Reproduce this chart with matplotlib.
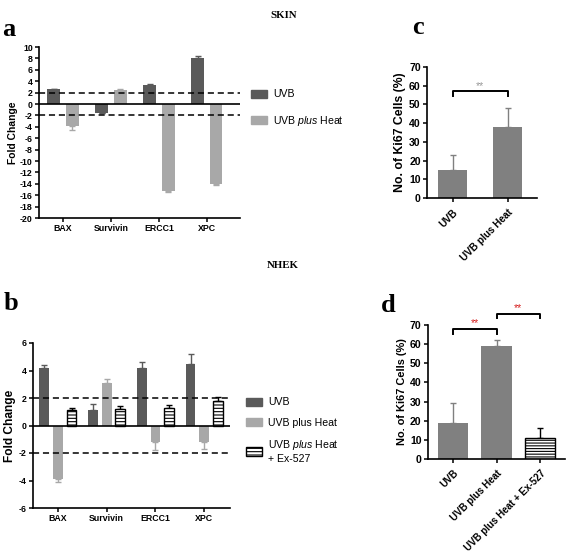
import matplotlib
matplotlib.use('Agg')
import matplotlib.pyplot as plt
from matplotlib.patches import Patch
import numpy as np

plt.rcParams['font.family'] = ['Liberation Sans', 'DejaVu Sans']
plt.rcParams['mathtext.fontset'] = 'custom'
plt.rcParams['mathtext.it'] = 'Liberation Sans:italic'
plt.rcParams['mathtext.rm'] = 'Liberation Sans'
plt.rcParams['hatch.linewidth'] = 0.8
plt.rcParams['axes.unicode_minus'] = False

genes = ['BAX', 'Survivin', 'ERCC1', 'XPC']

# panel a - skin
a_uvb = [2.6, -1.5, 3.3, 8.0]
a_uvb_err = [0.1, 0.1, 0.2, 0.5]
a_heat = [-3.8, 2.4, -15.3, -14.1]
a_heat_err = [0.8, 0.2, 0.1, 0.1]
a_labels = ['UVB', 'UVB $\\it{plus}$ Heat']

# panel b - NHEK
b_uvb = [4.2, 1.1, 4.2, 4.5]
b_uvb_err = [0.2, 0.5, 0.4, 0.7]
b_heat = [-3.9, 3.1, -1.2, -1.2]
b_heat_err = [0.2, 0.3, 0.6, 0.5]
b_ex = [1.1, 1.2, 1.3, 1.8]
b_ex_err = [0.2, 0.2, 0.2, 0.3]
b_labels = ['UVB', 'UVB plus Heat', 'UVB $\\it{plus}$ Heat\n+ Ex-527']

# panel c - Ki67 skin
c_groups = ['UVB', 'UVB plus Heat']
c_vals = [15, 38]
c_err = [8, 10]

# panel d - Ki67 NHEK
d_groups = ['UVB', 'UVB plus Heat', 'UVB plus Heat + Ex-527']
d_vals = [19, 59, 11]
d_err = [10, 3, 5]

DARK = '#5a5a5a'
LIGHT = '#a8a8a8'
MID = '#808080'

W, H = 567, 554
fig = plt.figure(figsize=(W / 100, H / 100), dpi=100)


def px_axes(left, right, top, bottom):
    return fig.add_axes([left / W, 1 - bottom / H, (right - left) / W, (bottom - top) / H])


def one_sided(vals, errs):
    lo = [e if v < 0 else 0 for v, e in zip(vals, errs)]
    hi = [e if v >= 0 else 0 for v, e in zip(vals, errs)]
    return [lo, hi]


def style(ax, size=6.3):
    for s in ['top', 'right']:
        ax.spines[s].set_visible(False)
    for s in ['left', 'bottom']:
        ax.spines[s].set_linewidth(1.2)
    ax.tick_params(direction='out', length=3, width=1.1, labelsize=size, pad=1.5)
    for lab in ax.get_xticklabels() + ax.get_yticklabels():
        lab.set_fontweight('bold')


def bars(ax, x, vals, errs, color, width, hatch=None):
    if hatch:
        ax.bar(x, vals, width, color='white', edgecolor='black', hatch=hatch, linewidth=1.0, zorder=2)
        ecol = 'black'
    else:
        ax.bar(x, vals, width, color=color, zorder=2)
        ecol = color
    ax.errorbar(x, vals, yerr=one_sided(vals, errs), fmt='none', ecolor=ecol,
                elinewidth=1.0, capsize=2.5, capthick=1.0, zorder=1)


# ---- panel a
ax = px_axes(39, 240, 47, 218)
x = np.arange(len(genes))
bars(ax, x - 0.19, a_uvb, a_uvb_err, DARK, 0.27)
bars(ax, x + 0.19, a_heat, a_heat_err, LIGHT, 0.27)
ax.axhline(0, color='black', lw=1.2, zorder=3)
for yv in (2, -2):
    ax.axhline(yv, color='black', lw=1.1, ls=(0, (4, 2.5)), zorder=4)
ax.set_xlim(-0.5, 3.69)
ax.set_ylim(-20, 10)
ax.set_yticks(np.arange(-20, 11, 2))
ax.set_xticks(x)
ax.set_xticklabels(genes)
ax.set_ylabel('Fold Change', fontsize=7.4, fontweight='bold', labelpad=1)
style(ax)
ax.legend(handles=[Patch(color=DARK), Patch(color=LIGHT)], labels=a_labels,
          loc='upper left', bbox_to_anchor=(247 / W, 1 - 85 / H), bbox_transform=fig.transFigure,
          frameon=False, fontsize=7.6, handlelength=1.5, handleheight=0.8,
          handletextpad=0.6, labelspacing=1.4, borderaxespad=0)

# ---- panel b
ax = px_axes(33, 230, 343, 508)
bars(ax, x - 0.28, b_uvb, b_uvb_err, DARK, 0.2)
bars(ax, x, b_heat, b_heat_err, LIGHT, 0.2)
bars(ax, x + 0.28, b_ex, b_ex_err, 'white', 0.2, hatch='-----')
ax.axhline(0, color='black', lw=1.2, zorder=3)
for yv in (2, -2):
    ax.axhline(yv, color='black', lw=1.1, ls=(0, (4, 2.5)), zorder=4)
ax.set_xlim(-0.51, 3.53)
ax.set_ylim(-6, 6)
ax.set_yticks(np.arange(-6, 7, 2))
ax.set_xticks(x)
ax.set_xticklabels(genes)
ax.set_ylabel('Fold Change', fontsize=8.6, fontweight='bold', labelpad=2)
style(ax)
ax.legend(handles=[Patch(color=DARK), Patch(color=LIGHT),
                   Patch(facecolor='white', edgecolor='black', hatch='-----')],
          labels=b_labels,
          loc='upper left', bbox_to_anchor=(242 / W, 1 - 393 / H), bbox_transform=fig.transFigure,
          frameon=False, fontsize=7.6, handlelength=1.5, handleheight=0.8,
          handletextpad=0.6, labelspacing=1.0, borderaxespad=0)


def sig(ax, x0, x1, y, color):
    ax.plot([x0, x0, x1, x1], [y - 2.5, y, y, y - 2.5], color='black', lw=1.4, clip_on=False)
    ax.text((x0 + x1) / 2, y + 0.3, '**', color=color, ha='center', va='bottom', fontsize=7.5)


# ---- panel c
ax = px_axes(427, 537, 67, 198)
xc = np.arange(len(c_groups))
bars(ax, xc, c_vals, c_err, MID, 0.53)
ax.set_xlim(-0.47, 1.53)
ax.set_ylim(0, 70)
ax.set_yticks(np.arange(0, 71, 10))
ax.set_xticks(xc)
ax.set_xticklabels(c_groups, rotation=45, ha='right', rotation_mode='anchor')
ax.set_ylabel('No. of Ki67 Cells (%)', fontsize=8.8, fontweight='bold', labelpad=2)
style(ax, 7.6)
ax.tick_params(axis='x', labelsize=7.2, pad=4)
sig(ax, 0, 1, 57, '#999999')

# ---- panel d
ax = px_axes(428, 565, 325, 459)
xd = np.arange(len(d_groups))
bars(ax, xd[:2], d_vals[:2], d_err[:2], MID, 0.69)
bars(ax, xd[2:], d_vals[2:], d_err[2:], 'white', 0.69, hatch='------')
ax.set_xlim(-0.57, 2.57)
ax.set_ylim(0, 70)
ax.set_yticks(np.arange(0, 71, 10))
ax.set_xticks(xd)
ax.set_xticklabels(d_groups, rotation=45, ha='right', rotation_mode='anchor')
ax.set_ylabel('No. of Ki67 Cells (%)', fontsize=7.9, fontweight='bold', labelpad=2)
style(ax, 7.6)
ax.tick_params(axis='x', labelsize=7.0, pad=3.5)
sig(ax, 0, 1, 68, '#d62020')
sig(ax, 1, 2, 76, '#d62020')

# titles and panel letters
serif = ['Liberation Serif', 'DejaVu Serif']
fig.text(270 / W, 1 - 16 / H, 'SKIN', family=serif, fontweight='bold', fontsize=7.8, ha='left', va='center')
fig.text(267 / W, 1 - 266 / H, 'NHEK', family=serif, fontweight='bold', fontsize=7.8, ha='left', va='center')
for lx, ly, letter in [(2, 30, 'a'), (412, 28, 'c'), (4, 304, 'b'), (381, 305, 'd')]:
    fig.text(lx / W, 1 - ly / H, letter, family=serif, fontweight='bold', fontsize=19, ha='left', va='center')

fig.savefig('out.png', dpi=100)
